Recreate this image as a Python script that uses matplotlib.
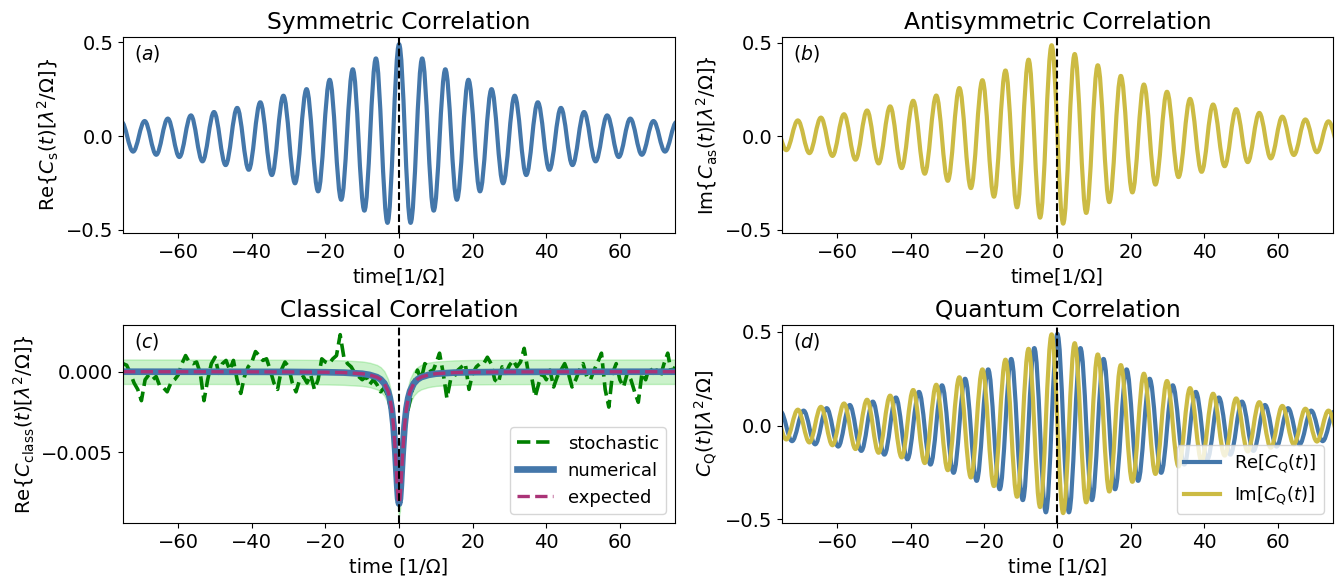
import numpy as np
import matplotlib.pyplot as plt
from matplotlib.path import Path
from matplotlib.patches import PathPatch
from matplotlib.lines import Line2D

plt.rcParams['font.size'] = 14

BLUE = '#4477AA'
YELLOW = '#CCBB44'
PURPLE = '#AA3377'

# extrema of Re C_s(t): times [1/Omega] and values
sym_t = [-75.40, -72.26, -69.12, -65.97, -62.83, -59.69, -56.55, -53.41, -50.27, -47.12,
         -43.98, -40.84, -37.70, -34.56, -31.42, -28.27, -25.13, -21.99, -18.85, -15.71,
         -12.57, -9.42, -6.28, -3.14, 0.0,
         3.14, 6.28, 9.42, 12.57, 15.71, 18.85, 21.99, 25.13, 28.27, 31.42,
         34.56, 37.70, 40.84, 43.98, 47.12, 50.27, 53.41, 56.55, 59.69, 62.83,
         65.97, 69.12, 72.26, 75.40]
sym_val = [0.075, -0.083, 0.08, -0.10, 0.093, -0.112, 0.11, -0.135, 0.128, -0.155,
           0.15, -0.18, 0.18, -0.208, 0.215, -0.252, 0.25, -0.295, 0.30, -0.34,
           0.356, -0.398, 0.414, -0.463, 0.49,
           -0.463, 0.414, -0.398, 0.356, -0.34, 0.30, -0.295, 0.25, -0.252, 0.215,
           -0.208, 0.18, -0.18, 0.15, -0.155, 0.128, -0.135, 0.11, -0.112, 0.093,
           -0.10, 0.08, -0.083, 0.075]

# extrema of Im C_as(t)
anti_t = [-76.97, -73.83, -70.69, -67.54, -64.40, -61.26, -58.12, -54.98, -51.84, -48.69,
          -45.55, -42.41, -39.27, -36.13, -32.99, -29.85, -26.70, -23.56, -20.42, -17.28,
          -14.14, -11.00, -7.85, -4.71, -1.57,
          1.57, 4.71, 7.85, 11.00, 14.14, 17.28, 20.42, 23.56, 26.70, 29.85,
          32.99, 36.13, 39.27, 42.41, 45.55, 48.69, 51.84, 54.98, 58.12, 61.26,
          64.40, 67.54, 70.69, 73.83, 76.97]
anti_val = [0.07, -0.074, 0.085, -0.09, 0.10, -0.105, 0.118, -0.125, 0.138, -0.145,
            0.16, -0.17, 0.19, -0.20, 0.218, -0.238, 0.258, -0.277, 0.30, -0.323,
            0.352, -0.38, 0.41, -0.435, 0.487,
            -0.467, 0.44, -0.41, 0.38, -0.352, 0.323, -0.30, 0.277, -0.258, 0.238,
            -0.218, 0.20, -0.19, 0.17, -0.16, 0.145, -0.138, 0.125, -0.118, 0.105,
            -0.10, 0.09, -0.085, 0.08, -0.07]

# classical correlation (units of 1e-3)
class_t = [-75, -50, -30, -20, -15, -10, -8, -6, -5, -4, -3, -2.5, -2, -1.5, -1, -0.75, -0.5, -0.25, 0,
           0.25, 0.5, 0.75, 1, 1.5, 2, 2.5, 3, 4, 5, 6, 8, 10, 15, 20, 30, 50, 75]
expected = [-0.002, -0.005, -0.014, -0.032, -0.057, -0.126, -0.2, -0.34, -0.48, -0.73, -1.21, -1.64,
            -2.3, -3.36, -5.0, -6.03, -7.07, -7.89, -8.2,
            -7.89, -7.07, -6.03, -5.0, -3.36, -2.3, -1.64, -1.21, -0.73, -0.48, -0.34, -0.2, -0.126,
            -0.057, -0.032, -0.014, -0.005, -0.002]
numerical = list(expected)
band_halfwidth = 0.76

stoch_t = list(range(-75, 76))
stochastic = [0.5, 0.4, -0.1, -0.7, -1.1, -1.8, -0.5, -0.2, -0.5, -0.3,
              -0.9, -1.0, -1.25, -0.7, -0.5, -0.2, 0.5, 1.0, 0.6, 0.5,
              0.6, -0.1, -1.8, -0.5, 0.5, 0.9, -0.1, 0.5, 0.7, 0.1,
              0.7, -0.5, -1.35, -0.3, 0.3, 0.6, 1.25, 1.0, 0.7, 0.8,
              0.1, -0.7, -1.1, 0.1, 0.6, 0.3, -0.7, -1.25, -0.5, -0.3,
              -0.7, -0.2, -1.1, -0.5, 0.8, 0.6, 0.5, 0.8, 1.0, 2.3,
              0.9, 0.5, 0.3, -0.1, -0.3, -0.5, -0.3, -0.8, -0.5, -0.8,
              -1.25, -1.0, -1.55, -2.6, -5.2, -8.0, -5.0, -2.8, -1.8, -0.7,
              0.1, -0.5, 0.5, 0.3, -0.1, 0.5, 1.15, -0.1, -1.65, -0.5,
              -0.3, 0.1, 0.3, 0.5, -1.1, -0.1, 0.3, 0.5, 0.5, 0.9,
              0.5, -0.5, -0.7, 0.3, -0.1, 0.4, 0.7, 0.3, 0.6, 1.45,
              0.1, -0.3, -1.55, -0.7, -0.1, -0.5, 0.1, -0.95, -0.3, 0.1,
              0.5, -0.1, -0.95, -0.5, 0.1, 0.5, -0.3, -0.5, 0.1, 0.6,
              1.15, -1.1, -2.2, -0.1, 0.5, -0.5, -0.95, -0.1, -0.5, -1.25,
              -1.9, -0.1, -0.5, 0.3, -0.1, 0.1, -0.3, 0.5, 1.15, -0.1, 0.3]


def wave(ax, ts, ys, color, lw=3):
    # smooth curve through the extrema using cubic bezier segments
    verts = [(ts[0], ys[0])]
    codes = [Path.MOVETO]
    for i in range(len(ts) - 1):
        h = 0.3634 * (ts[i + 1] - ts[i])
        verts += [(ts[i] + h, ys[i]), (ts[i + 1] - h, ys[i + 1]), (ts[i + 1], ys[i + 1])]
        codes += [Path.CURVE4] * 3
    ax.add_patch(PathPatch(Path(verts, codes), facecolor='none', edgecolor=color, lw=lw,
                           capstyle='round', joinstyle='round'))


fig = plt.figure(figsize=(13.4, 5.79), dpi=100)
axa = fig.add_axes([0.0918, 0.5976, 0.412, 0.3385])
axb = fig.add_axes([0.5836, 0.5976, 0.411, 0.3385])
axc = fig.add_axes([0.0918, 0.0967, 0.412, 0.342])
axd = fig.add_axes([0.5836, 0.0967, 0.411, 0.342])

wave(axa, sym_t, sym_val, BLUE)
axa.set_ylim(-0.517, 0.528)
axa.set_title('Symmetric Correlation')
axa.set_xlabel('time[1/Ω]')
axa.set_ylabel(r'Re$\{C_{\rm s}(t)[\lambda^2/\Omega]\}$')

wave(axb, anti_t, anti_val, YELLOW)
axb.set_ylim(-0.517, 0.531)
axb.set_title('Antisymmetric Correlation')
axb.set_xlabel('time[1/Ω]')
axb.set_ylabel(r'Im$\{C_{\rm as}(t)[\lambda^2/\Omega]\}$')

ct = np.array(class_t)
ce = np.array(expected) * 1e-3
axc.fill_between(ct, ce - band_halfwidth * 1e-3, ce + band_halfwidth * 1e-3,
                 color='limegreen', alpha=0.25)
axc.plot(stoch_t, np.array(stochastic) * 1e-3, color='green', ls='--', lw=2.6, label='stochastic')
axc.plot(ct, np.array(numerical) * 1e-3, color=BLUE, lw=4.8, label='numerical')
axc.plot(ct, ce, color=PURPLE, ls='--', lw=2.4, label='expected')
axc.set_ylim(-0.0094, 0.0029)
axc.set_yticks([-0.005, 0.0])
axc.set_title('Classical Correlation')
axc.set_xlabel('time [1/Ω]')
axc.set_ylabel(r'Re$\{C_{\rm class}(t)[\lambda^2/\Omega]\}$')
axc.legend(loc='lower right', fontsize=13)

wave(axd, sym_t, sym_val, BLUE)
wave(axd, anti_t, anti_val, YELLOW)
axd.set_ylim(-0.52, 0.537)
axd.set_title('Quantum Correlation')
axd.set_xlabel('time [1/Ω]')
axd.set_ylabel(r'$C_{\rm Q}(t)[\lambda^2/\Omega]$')
axd.legend([Line2D([], [], color=BLUE, lw=3), Line2D([], [], color=YELLOW, lw=3)],
           [r'Re$[C_{\rm Q}(t)]$', r'Im$[C_{\rm Q}(t)]$'], loc='lower right', fontsize=13)

for ax, lab in zip([axa, axb, axc, axd], ['a', 'b', 'c', 'd']):
    ax.axvline(0, color='k', ls='--', lw=1.5, zorder=5)
    ax.set_xlim(-75, 75)
    ax.set_xticks([-60, -40, -20, 0, 20, 40, 60])
    if lab != 'c':
        ax.set_yticks([-0.5, 0.0, 0.5])
    ax.text(0.02, 0.97, '$(' + lab + ')$', transform=ax.transAxes, va='top', ha='left', fontsize=13.5)

plt.savefig('out.png')
